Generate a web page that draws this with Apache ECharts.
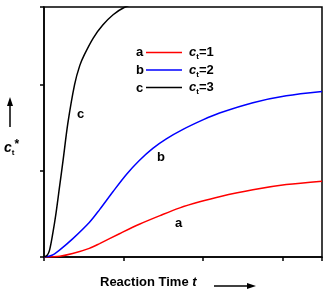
<!DOCTYPE html>
<html><head><meta charset="utf-8">
<script src="https://cdn.jsdelivr.net/npm/echarts@6/dist/echarts.min.js"></script>
<style>html,body{margin:0;padding:0;background:#fff}#c{width:331px;height:294px}</style>
</head><body><div id="c"></div>
<script>
// Data
var tA = [0, 0.2, 0.36, 0.57, 0.70, 0.95, 1.20, 1.46, 1.71, 1.96, 2.21, 2.63, 3.05, 3.5];
var vA = [0, 0.01, 0.04, 0.1, 0.156, 0.27, 0.38, 0.48, 0.57, 0.64, 0.70, 0.78, 0.84, 0.88];
var tB = [0, 0.1, 0.195, 0.36, 0.57, 0.70, 0.87, 1.04, 1.20, 1.37, 1.54, 1.75, 2.0, 2.21, 2.63, 3.05, 3.5];
var vB = [0, 0.02, 0.08, 0.21, 0.40, 0.55, 0.76, 0.96, 1.12, 1.26, 1.37, 1.48, 1.59, 1.67, 1.79, 1.87, 1.92];
var tC = [0, 0.04, 0.07, 0.11, 0.15, 0.195, 0.24, 0.30, 0.385, 0.45, 0.51, 0.62, 0.74, 0.87, 1.02, 1.2];
var vC = [0, 0.02, 0.08, 0.27, 0.5, 0.81, 1.12, 1.55, 2.0, 2.22, 2.35, 2.54, 2.69, 2.81, 2.9, 2.96];
var seriesNames = ['a', 'b', 'c'];
var legendValues = ['1', '2', '3'];
var xTitle = 'Reaction Time ';

function pairs(t, v) { return t.map(function (x, i) { return [x, v[i]]; }); }

var chart = echarts.init(document.getElementById('c'), null, {renderer: 'canvas'});
var F = 'Liberation Sans, Arial, sans-serif';
var colors = ['#ff0000', '#0000ff', '#000000'];
var datas = [pairs(tA, vA), pairs(tB, vB), pairs(tC, vC)];

var series = seriesNames.map(function (n, i) {
  return {
    name: n, type: 'line', data: datas[i], symbol: 'none', smooth: 0.3,
    clip: true, lineStyle: {color: colors[i], width: 1.5}, itemStyle: {color: colors[i]},
    silent: true, animation: false
  };
});

chart.setOption({
  animation: false,
  grid: {left: 44, right: 9, top: 7, bottom: 37, show: true, borderColor: '#000', borderWidth: 1.5},
  xAxis: {type: 'value', min: 0, max: 3.5, interval: 1,
    axisLine: {lineStyle: {color: '#000', width: 1.5}},
    axisTick: {show: true, inside: false, length: 4, lineStyle: {color: '#000', width: 1.5}},
    axisLabel: {show: false}, splitLine: {show: false}},
  yAxis: {type: 'value', min: 0, max: 2.9, interval: 1,
    axisLine: {show: true, lineStyle: {color: '#000', width: 1.5}},
    axisTick: {show: true, inside: false, length: 4, lineStyle: {color: '#000', width: 1.5}},
    axisLabel: {show: false}, splitLine: {show: false}},
  legend: {
    orient: 'vertical', left: 146, top: 46, padding: 0, itemWidth: 36, itemHeight: 12, itemGap: 2.5,
    icon: 'path://M0,0 L36,0 L36,1.5 L0,1.5 Z',
    data: seriesNames,
    formatter: function (n) {
      var i = seriesNames.indexOf(n);
      return '{c|c}{s|t}{n|=' + legendValues[i] + '}';
    },
    textStyle: {
      rich: {
        c: {fontFamily: F, fontWeight: 'bold', fontStyle: 'italic', fontSize: 13, color: '#000', padding: [0, 0, 0, 2]},
        s: {fontFamily: F, fontWeight: 'bold', fontSize: 8, color: '#000', padding: [9, 0, 0, 0]},
        n: {fontFamily: F, fontWeight: 'bold', fontSize: 13, color: '#000'}
      }
    }
  },
  graphic: [
    // legend letters
    {type: 'text', left: 136, top: 46, style: {text: 'a', font: 'bold 13px ' + F, fill: '#000'}},
    {type: 'text', left: 136, top: 64, style: {text: 'b', font: 'bold 13px ' + F, fill: '#000'}},
    {type: 'text', left: 136, top: 81.5, style: {text: 'c', font: 'bold 13px ' + F, fill: '#000'}},
    // curve labels
    {type: 'text', left: 77, top: 108, style: {text: 'c', font: 'bold 13px ' + F, fill: '#000'}},
    {type: 'text', left: 157, top: 151, style: {text: 'b', font: 'bold 13px ' + F, fill: '#000'}},
    {type: 'text', left: 175, top: 217, style: {text: 'a', font: 'bold 13px ' + F, fill: '#000'}},
    // x title
    {type: 'text', left: 100, top: 276, style: {
      text: '{r|' + xTitle + '}{t|t}',
      rich: {r: {font: 'bold 13px ' + F, fill: '#000'}, t: {font: 'italic bold 13px ' + F, fill: '#000'}}
    }},
    {type: 'line', shape: {x1: 214, y1: 286, x2: 250, y2: 286}, style: {stroke: '#000', lineWidth: 1.5}},
    {type: 'polygon', shape: {points: [[256, 286], [247, 283], [247, 289]]}, style: {fill: '#000'}},
    // y title
    {type: 'line', shape: {x1: 10, y1: 104, x2: 10, y2: 127}, style: {stroke: '#000', lineWidth: 1.5}},
    {type: 'polygon', shape: {points: [[10, 97], [7, 106], [13, 106]]}, style: {fill: '#000'}},
    {type: 'text', left: 4, top: 139, style: {
      text: '{c|c}{s|t}{p|*}',
      rich: {
        c: {font: 'italic bold 14px ' + F, fill: '#000'},
        s: {font: 'bold 8px ' + F, fill: '#000', padding: [9, 0, 0, 0]},
        p: {font: 'bold 12px ' + F, fill: '#000', padding: [0, 0, 6, 0]}
      }
    }}
  ],
  series: series
});
</script></body></html>
